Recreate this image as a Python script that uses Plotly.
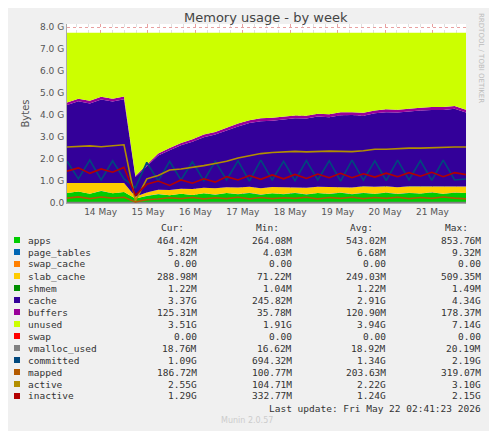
import plotly.graph_objects as go
import pandas as pd

# ---- data (GiB-ish units, 36 samples across the week) ----
times = pd.date_range("2026-05-13 07:00", "2026-05-21 17:00", periods=36)
apps       = [0.45,0.52,0.42,0.55,0.44,0.50,0.20,0.32,0.40,0.35,0.42,0.36,0.44,0.38,0.45,0.40,0.46,0.38,0.44,0.40,0.46,0.39,0.45,0.41,0.47,0.40,0.46,0.42,0.47,0.41,0.46,0.43,0.48,0.42,0.47,0.45]
page_tables= [0.006]*36
swap_cache = [0.0]*36
slab_cache = [0.45,0.38,0.48,0.36,0.47,0.40,0.08,0.15,0.20,0.24,0.22,0.27,0.25,0.28,0.26,0.30,0.27,0.29,0.28,0.31,0.27,0.30,0.28,0.31,0.27,0.30,0.29,0.31,0.28,0.30,0.29,0.32,0.28,0.31,0.29,0.29]
shmem      = [0.0012]*36
cache      = [3.55,3.72,3.62,3.80,3.70,3.82,0.90,1.18,1.55,1.80,1.98,2.15,2.30,2.45,2.60,2.78,2.90,3.05,3.02,3.10,3.12,3.15,3.20,3.18,3.25,3.30,3.22,3.35,3.38,3.40,3.42,3.45,3.47,3.50,3.52,3.37]
buffers    = [0.12,0.12,0.13,0.12,0.13,0.12,0.04,0.08,0.10,0.11,0.11,0.12,0.12,0.12,0.12,0.13,0.13,0.13,0.13,0.13,0.13,0.13,0.13,0.13,0.13,0.13,0.13,0.13,0.13,0.13,0.13,0.13,0.13,0.13,0.13,0.13]
total = 7.75
unused = [round(total - a - p - s - sl - sh - c - b, 4) for a, p, s, sl, sh, c, b in
          zip(apps, page_tables, swap_cache, slab_cache, shmem, cache, buffers)]
swap = [0.0]*36
vmalloc_used = [0.019]*36
committed  = [1.90,1.10,1.95,1.05,1.92,1.10,0.70,1.85,1.00,1.90,1.05,1.88,1.02,1.90,1.05,1.92,1.00,1.95,1.05,1.90,1.02,1.93,1.05,1.92,1.00,1.95,1.04,1.92,1.02,1.95,1.05,1.93,1.03,1.95,1.05,1.09]
mapped     = [0.22,0.28,0.20,0.27,0.22,0.26,0.05,0.15,0.18,0.24,0.20,0.25,0.19,0.24,0.20,0.26,0.19,0.25,0.20,0.24,0.21,0.26,0.19,0.25,0.21,0.26,0.20,0.25,0.21,0.26,0.20,0.25,0.21,0.27,0.22,0.19]
active     = [2.55,2.58,2.60,2.56,2.62,2.65,0.10,1.10,1.25,1.50,1.55,1.62,1.70,1.80,1.90,2.05,2.15,2.25,2.30,2.32,2.35,2.33,2.35,2.36,2.35,2.34,2.38,2.45,2.45,2.48,2.50,2.50,2.52,2.56,2.55,2.55]
inactive   = [1.45,1.60,1.35,1.55,1.40,1.62,0.35,0.85,1.00,0.80,1.05,0.90,1.10,0.95,1.20,1.05,1.25,1.08,1.28,1.10,1.30,1.12,1.32,1.15,1.35,1.15,1.33,1.18,1.36,1.20,1.38,1.22,1.40,1.20,1.38,1.29]

legend_rows = [
    ("apps", "#00CC00", "464.42M", "264.08M", "543.02M", "853.76M"),
    ("page_tables", "#0066B3", "5.82M", "4.03M", "6.68M", "9.32M"),
    ("swap_cache", "#FF8000", "0.00", "0.00", "0.00", "0.00"),
    ("slab_cache", "#FFCC00", "288.98M", "71.22M", "249.03M", "509.35M"),
    ("shmem", "#008F00", "1.22M", "1.04M", "1.22M", "1.49M"),
    ("cache", "#330099", "3.37G", "245.82M", "2.91G", "4.34G"),
    ("buffers", "#990099", "125.31M", "35.78M", "120.90M", "178.37M"),
    ("unused", "#CCFF00", "3.51G", "1.91G", "3.94G", "7.14G"),
    ("swap", "#FF0000", "0.00", "0.00", "0.00", "0.00"),
    ("vmalloc_used", "#808080", "18.76M", "16.62M", "18.92M", "20.19M"),
    ("committed", "#00487D", "1.09G", "694.32M", "1.34G", "2.19G"),
    ("mapped", "#B35A00", "186.72M", "100.77M", "203.63M", "319.07M"),
    ("active", "#B38F00", "2.55G", "104.71M", "2.22G", "3.10G"),
    ("inactive", "#B30000", "1.29G", "332.77M", "1.24G", "2.15G"),
]
yticks = [0, 1, 2, 3, 4, 5, 6, 7, 8]
ytick_labels = ["0.0", "1.0 G", "2.0 G", "3.0 G", "4.0 G", "5.0 G", "6.0 G", "7.0 G", "8.0 G"]

fig = go.Figure()
stack = [("apps", apps, "#00CC00"), ("page_tables", page_tables, "#0066B3"),
         ("swap_cache", swap_cache, "#FF8000"), ("slab_cache", slab_cache, "#FFCC00"),
         ("shmem", shmem, "#008F00"), ("cache", cache, "#330099"),
         ("buffers", buffers, "#990099"), ("unused", unused, "#CCFF00"), ("swap", swap, "#FF0000")]
for name, vals, col in stack:
    fig.add_trace(go.Scatter(x=times, y=vals, name=name, stackgroup="m", mode="lines",
                             line=dict(width=0, color=col), fillcolor=col))
for name, vals, col in [("vmalloc_used", vmalloc_used, "#808080"), ("committed", committed, "#00487D"),
                        ("mapped", mapped, "#B35A00"), ("active", active, "#B38F00"),
                        ("inactive", inactive, "#B30000")]:
    fig.add_trace(go.Scatter(x=times, y=vals, name=name, mode="lines", line=dict(width=1.6, color=col)))

OFF = 8  # page body margin
W, H = 497 - OFF, 431 - OFF
L, R, T, B = 67 - OFF, 466 - OFF, 24 - OFF, 203 - OFF
def px(x): return (x - OFF - L) / (R - L)
def py(y): return (B - (y - OFF)) / (B - T)

P = dict(xref="paper", yref="paper", showarrow=False, yanchor="middle")
ann = [dict(text="Memory usage - by week", x=px(266), y=py(18), font=dict(size=13, color="#444", family="DejaVu Sans"), **P)]
ann.append(dict(text="RRDTOOL / TOBI OETIKER", x=px(487), y=py(58), textangle=90,
                font=dict(size=7, color="#bbb", family="DejaVu Sans"), **P))
mono = dict(family="DejaVu Sans Mono", size=9.5, color="#333")
for col, xr in [("Cur:", 186), ("Min:", 281), ("Avg:", 375), ("Max:", 470)]:
    ann.append(dict(text=col, x=px(xr), y=py(228), xanchor="right", font=mono, **P))
shapes = []
for i, (n, c, cur, mn, av, mx) in enumerate(legend_rows):
    yy = 240 + i * 12
    shapes.append(dict(type="rect", xref="paper", yref="paper", x0=px(14), x1=px(20),
                       y0=py(yy + 3), y1=py(yy - 3), fillcolor=c, line=dict(width=0)))
    ann.append(dict(text=n, x=px(26), y=py(yy), xanchor="left", font=mono, **P))
    for v, xr in [(cur, 199), (mn, 294), (av, 388), (mx, 483)]:
        ann.append(dict(text=v, x=px(xr), y=py(yy), xanchor="right", font=mono, **P))
ann.append(dict(text="Last update: Fri May 22 02:41:23 2026", x=px(483), y=py(408), xanchor="right", font=mono, **P))
ann.append(dict(text="Munin 2.0.57", x=px(247), y=py(420), font=dict(family="DejaVu Sans", size=8, color="#ccc"), **P))

fig.update_layout(
    width=W, height=H, margin=dict(l=L, r=W - R, t=T, b=H - B, autoexpand=False),
    paper_bgcolor="#F0F0F0", plot_bgcolor="#FFFFFF", showlegend=False,
    annotations=ann, shapes=shapes,
    font=dict(family="DejaVu Sans", size=9, color="#555"),
)
fig.update_xaxes(range=[times[0], times[-1]], dtick=86400000, tickformat="%d %b",
                 tick0="2026-05-14",
                 showgrid=True, gridcolor="#e8a0a0", griddash="dot", gridwidth=1,
                 minor=dict(dtick=21600000, showgrid=True, gridcolor="#e0e0e0", griddash="dot"),
                 showline=True, linecolor="#aaa", ticks="", tickfont=dict(size=9, color="#555"))
fig.update_yaxes(range=[0, 8.15], tickvals=yticks, ticktext=ytick_labels,
                 showgrid=True, gridcolor="#e8a0a0", griddash="dot",
                 minor=dict(dtick=0.5, showgrid=True, gridcolor="#e0e0e0", griddash="dot"),
                 showline=True, linecolor="#aaa", title=dict(text="Bytes", font=dict(size=10, color="#555"), standoff=8),
                 tickfont=dict(size=9, color="#555"), zeroline=False)
fig.write_html("out.html")
